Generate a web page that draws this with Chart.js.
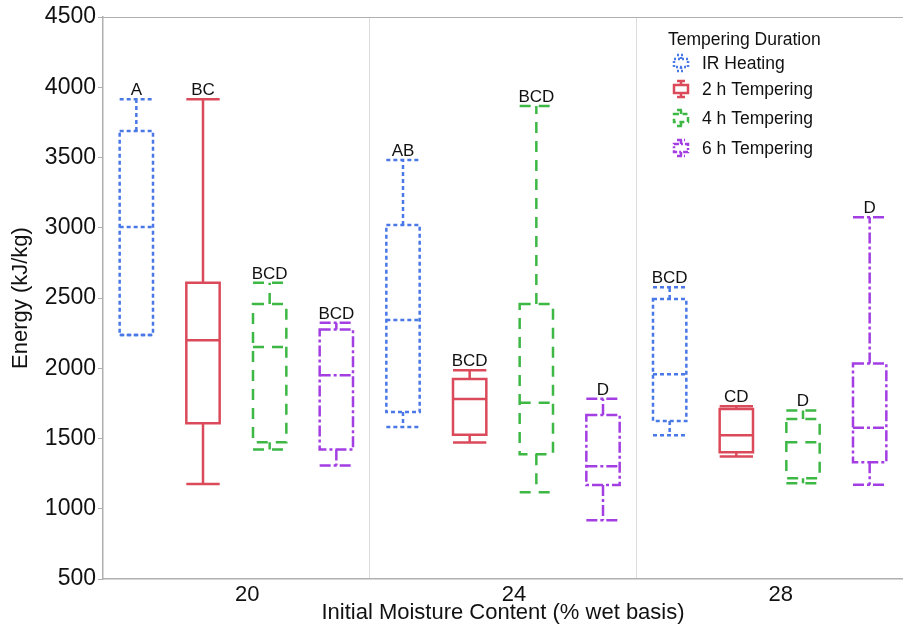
<!DOCTYPE html>
<html>
<head>
<meta charset="utf-8">
<script src="https://cdn.jsdelivr.net/npm/chart.js@4/dist/chart.umd.min.js"></script>
<style>
html,body{margin:0;padding:0;background:#fff;}
#wrap{width:903px;height:631px;position:relative;}
</style>
</head>
<body>
<div id="wrap"><canvas id="c" width="903" height="631"></canvas></div>
<script>
// ---- data (five-number summaries: [min, q1, median, q3, max]) ----
const categories = ['20', '24', '28'];
const seriesNames = ['IR Heating', '2 h Tempering', '4 h Tempering', '6 h Tempering'];
const irHeating   = [[2236, 2236, 3005, 3688, 3914], [1581, 1688, 2343, 3019, 3483], [1524, 1624, 1957, 2493, 2576]];
const temper2h    = [[1176, 1609, 2200, 2609, 3914], [1471, 1526, 1781, 1924, 1986], [1371, 1402, 1524, 1710, 1729]];
const temper4h    = [[1421, 1474, 2152, 2457, 2609], [1117, 1388, 1755, 2457, 3867], [1181, 1217, 1474, 1638, 1700]];
const temper6h    = [[1307, 1421, 1950, 2276, 2324], [919, 1169, 1302, 1667, 1783], [1171, 1331, 1576, 2033, 3074]];
const lettersIR = ['A', 'AB', 'BCD'];
const letters2h = ['BC', 'BCD', 'CD'];
const letters4h = ['BCD', 'BCD', 'D'];
const letters6h = ['BCD', 'D', 'D'];
const yTicks = [500, 1000, 1500, 2000, 2500, 3000, 3500, 4000, 4500];

const allSeries = [irHeating, temper2h, temper4h, temper6h];
const allLetters = [lettersIR, letters2h, letters4h, letters6h];
const colors = ['#4a78e6', '#db4a5b', '#3db845', '#a33ee3'];
const dashes = [[4, 3], [], [11, 8], [11, 3, 3, 3]];

const FONT = "'Liberation Sans', Arial, sans-serif";

const boxPlugin = {
  id: 'boxes',
  afterDatasetsDraw(chart) {
    const ctx = chart.ctx;
    const y = chart.scales.y;
    const area = chart.chartArea;
    ctx.save();
    // top frame line
    ctx.strokeStyle = '#b0b0b0';
    ctx.lineWidth = 1;
    ctx.beginPath();
    ctx.moveTo(area.left, area.top + 0.5);
    ctx.lineTo(area.right, area.top + 0.5);
    ctx.stroke();

    chart.data.datasets.forEach((ds, di) => {
      const meta = chart.getDatasetMeta(di);
      const stats = allSeries[di];
      meta.data.forEach((el, i) => {
        const s = stats[i];
        const cx = el.x, hw = el.width / 2;
        const pMin = y.getPixelForValue(s[0]), pQ1 = y.getPixelForValue(s[1]);
        const pMed = y.getPixelForValue(s[2]), pQ3 = y.getPixelForValue(s[3]);
        const pMax = y.getPixelForValue(s[4]);
        ctx.strokeStyle = colors[di];
        ctx.lineWidth = 2.5;
        ctx.setLineDash(dashes[di]);
        ctx.lineCap = 'butt';
        // box
        ctx.beginPath();
        ctx.rect(cx - hw, pQ3, hw * 2, pQ1 - pQ3);
        ctx.stroke();
        // median
        ctx.beginPath();
        ctx.moveTo(cx - hw, pMed); ctx.lineTo(cx + hw, pMed);
        ctx.stroke();
        // whiskers
        ctx.beginPath();
        ctx.moveTo(cx, pQ3); ctx.lineTo(cx, pMax);
        ctx.moveTo(cx - hw, pMax); ctx.lineTo(cx + hw, pMax);
        ctx.moveTo(cx, pQ1); ctx.lineTo(cx, pMin);
        ctx.moveTo(cx - hw, pMin); ctx.lineTo(cx + hw, pMin);
        ctx.stroke();
        ctx.setLineDash([]);
        // letter
        ctx.fillStyle = '#111';
        ctx.font = '17px ' + FONT;
        ctx.textAlign = 'center';
        ctx.textBaseline = 'alphabetic';
        ctx.fillText(allLetters[di][i], cx, pMax - 4);
      });
    });

    // legend
    const lx = 668, ly = 40;
    ctx.fillStyle = '#111';
    ctx.font = '17.5px ' + FONT;
    ctx.textAlign = 'left';
    ctx.textBaseline = 'middle';
    ctx.fillText('Tempering Duration', lx, ly);
    const rows = [63, 89, 118, 148];
    seriesNames.forEach((name, di) => {
      const iy = rows[di], ix = 681;
      ctx.strokeStyle = colors[di];
      ctx.lineWidth = 2.5;
      ctx.setLineDash(dashes[di].length ? dashes[di].map(v => Math.max(2, v * 0.45)) : []);
      ctx.beginPath();
      ctx.rect(ix - 7, iy - 4, 14, 8);
      ctx.moveTo(ix, iy - 4); ctx.lineTo(ix, iy - 8);
      ctx.moveTo(ix - 4, iy - 8); ctx.lineTo(ix + 4, iy - 8);
      ctx.moveTo(ix, iy + 4); ctx.lineTo(ix, iy + 8);
      ctx.moveTo(ix - 4, iy + 8); ctx.lineTo(ix + 4, iy + 8);
      ctx.stroke();
      ctx.setLineDash([]);
      ctx.fillStyle = '#111';
      ctx.fillText(name, 702, iy + 1);
    });
    ctx.restore();
  }
};

new Chart(document.getElementById('c'), {
  type: 'bar',
  data: {
    labels: categories,
    datasets: allSeries.map((arr, di) => ({
      label: seriesNames[di],
      data: arr.map(s => [s[1], s[3]]),
      backgroundColor: 'rgba(0,0,0,0)',
      borderWidth: 0,
      categoryPercentage: 1.0,
      barPercentage: 0.5
    }))
  },
  options: {
    responsive: false,
    animation: false,
    layout: { padding: { top: 17, right: 0, left: 8, bottom: 5 } },
    plugins: { legend: { display: false }, tooltip: { enabled: false } },
    scales: {
      x: {
        offset: true,
        grid: {
          offset: true,
          drawTicks: false,
          color: (c) => (c.index === 3 ? 'rgba(0,0,0,0)' : '#dcdcdc'),
          lineWidth: 1
        },
        border: { color: '#b0b0b0', width: 1.5 },
        ticks: { font: { family: FONT, size: 22 }, color: '#111', padding: 3, labelOffset: 11 },
        title: { display: true, text: 'Initial Moisture Content (% wet basis)', font: { family: FONT, size: 22 }, color: '#111', padding: { top: -3, bottom: 0 } },
        afterFit: (s) => { s.height = 47; }
      },
      y: {
        min: 500, max: 4500,
        afterBuildTicks: (s) => { s.ticks = yTicks.map(v => ({ value: v })); },
        grid: { drawOnChartArea: false, drawTicks: true, tickLength: 5, color: '#b0b0b0' },
        border: { color: '#b0b0b0', width: 1.5 },
        ticks: { font: { family: FONT, size: 23 }, color: '#111', padding: 2, callback: (v) => String(v) },
        title: { display: true, text: 'Energy (kJ/kg)', font: { family: FONT, size: 22 }, color: '#111', padding: { top: 0, bottom: 2 } },
        afterFit: (s) => { s.width = 95; }
      }
    }
  },
  plugins: [boxPlugin]
});
</script>
</body>
</html>
